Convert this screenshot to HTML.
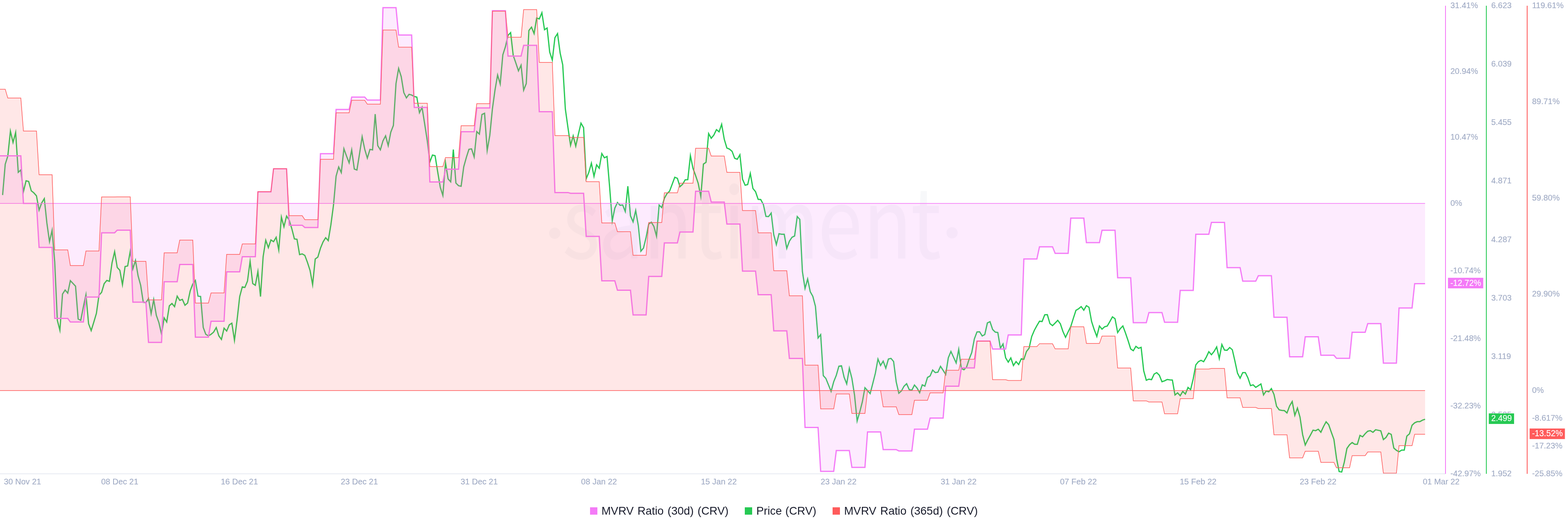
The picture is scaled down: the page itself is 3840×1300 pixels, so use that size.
<!DOCTYPE html>
<html lang="en"><head><meta charset="utf-8"><title>CRV MVRV chart</title>
<style>
html,body{margin:0;padding:0;background:#fff;}
body{width:3840px;height:1300px;overflow:hidden;font-family:"Liberation Sans",Arial,sans-serif;}
svg{display:block;}
svg text{font-family:"Liberation Sans",Arial,sans-serif;}
</style></head><body>
<svg width="3840" height="1300" viewBox="0 0 3840 1300">
<g fill="#9FAAC4" fill-opacity="0.085">
<circle cx="1358.5" cy="571" r="13.7"/><circle cx="2331.6" cy="570" r="13.7"/>
<text style="font-family:'Noto Sans CJK JP','Liberation Sans',sans-serif" font-size="237.7" transform="translate(0,632.5) scale(0.83,1)" x="1659.0 1765.9 1898.3 2044.1 2133.4 2196.9 2412.8 2546.4 2687.5" y="0">santiment</text>
</g>
<path d="M6.4,477.5 L12.8,402.1 L19.1,382.3 L25.5,321.0 L31.9,348.8 L38.3,324.3 L44.7,421.8 L51.0,416.1 L57.4,469.1 L63.8,442.6 L70.2,444.3 L76.6,467.2 L82.9,472.2 L89.3,479.5 L95.7,514.4 L102.1,496.7 L108.5,486.3 L114.8,546.0 L121.2,591.6 L127.6,563.8 L134.0,641.0 L140.4,784.2 L146.7,808.6 L153.1,719.9 L159.5,710.1 L165.9,717.7 L172.3,687.2 L178.6,693.8 L185.0,700.7 L191.4,781.0 L197.8,784.0 L204.2,751.1 L210.5,721.6 L216.9,792.5 L223.3,809.3 L229.7,788.8 L236.1,767.2 L242.4,722.7 L248.8,715.8 L255.2,694.3 L261.6,686.6 L268.0,688.7 L274.4,643.3 L280.7,616.1 L287.1,654.8 L293.5,661.7 L299.9,697.1 L306.3,652.5 L312.6,651.1 L319.0,615.1 L325.4,658.3 L331.8,637.5 L338.2,675.5 L344.5,698.4 L350.9,740.1 L357.3,741.0 L363.7,731.0 L370.1,768.1 L376.4,733.4 L382.8,771.8 L389.2,790.1 L395.6,817.7 L402.0,778.2 L408.3,788.3 L414.7,748.8 L421.1,743.0 L427.5,750.7 L433.9,725.0 L440.2,735.4 L446.6,732.9 L453.0,747.3 L459.4,742.0 L465.8,712.2 L472.1,695.2 L478.5,686.5 L484.9,725.0 L491.3,725.9 L497.7,801.6 L504.0,818.5 L510.4,822.2 L516.8,818.5 L523.2,813.1 L529.6,801.9 L535.9,822.2 L542.3,831.0 L548.7,803.3 L555.1,810.5 L561.5,795.2 L567.8,791.3 L574.2,833.3 L580.6,783.3 L587.0,726.2 L593.4,702.2 L599.7,703.7 L606.1,688.1 L612.5,639.8 L618.9,694.1 L625.3,698.5 L631.6,664.7 L638.0,726.2 L644.4,628.5 L650.8,588.1 L657.2,606.3 L663.5,587.4 L669.9,591.7 L676.3,580.8 L682.7,612.0 L689.1,531.4 L695.4,555.1 L701.8,529.0 L708.2,539.0 L714.6,559.7 L721.0,584.9 L727.3,585.8 L733.7,623.3 L740.1,621.6 L746.5,625.3 L752.9,642.2 L759.3,662.0 L765.6,696.9 L772.0,634.0 L778.4,629.4 L784.8,607.8 L791.2,592.2 L797.5,581.9 L803.9,589.1 L810.3,550.5 L816.7,502.3 L823.1,431.2 L829.4,408.9 L835.8,422.6 L842.2,364.1 L848.6,382.1 L855.0,398.7 L861.3,367.1 L867.7,413.8 L874.1,416.3 L880.5,376.4 L886.9,334.7 L893.2,365.4 L899.6,387.1 L906.0,365.7 L912.4,366.9 L918.8,279.4 L925.1,356.5 L931.5,366.8 L937.9,344.7 L944.3,332.6 L950.7,356.6 L957.0,323.6 L963.4,307.1 L969.8,204.6 L976.2,167.6 L982.6,187.7 L988.9,226.6 L995.3,239.6 L1001.7,230.9 L1008.1,232.6 L1014.5,236.3 L1020.8,237.7 L1027.2,275.9 L1033.6,262.7 L1040.0,303.3 L1046.4,344.5 L1052.7,396.5 L1059.1,379.5 L1065.5,381.2 L1071.9,420.7 L1078.3,458.8 L1084.6,478.5 L1091.0,398.4 L1097.4,438.1 L1103.8,445.1 L1110.2,366.1 L1116.5,448.2 L1122.9,454.6 L1129.3,455.9 L1135.7,408.3 L1142.1,385.4 L1148.4,365.6 L1154.8,364.4 L1161.2,384.2 L1167.6,322.2 L1174.0,328.4 L1180.3,280.3 L1186.7,277.3 L1193.1,368.3 L1199.5,331.5 L1205.9,266.5 L1212.2,220.7 L1218.6,183.6 L1225.0,205.6 L1231.4,134.4 L1237.8,114.3 L1244.1,86.7 L1250.5,79.8 L1256.9,135.8 L1263.3,154.2 L1269.7,173.4 L1276.1,159.6 L1282.4,220.7 L1288.8,204.6 L1295.2,74.8 L1301.6,66.4 L1308.0,82.3 L1314.3,44.2 L1320.7,46.3 L1327.1,31.1 L1333.5,72.8 L1339.9,68.6 L1346.2,127.6 L1352.6,147.1 L1359.0,92.2 L1365.4,82.3 L1371.8,129.9 L1378.1,158.8 L1384.5,266.6 L1390.9,312.4 L1397.3,355.8 L1403.7,332.7 L1410.0,357.9 L1416.4,328.7 L1422.8,301.5 L1429.2,312.4 L1435.6,437.7 L1441.9,422.3 L1448.3,399.5 L1454.7,431.8 L1461.1,403.5 L1467.5,411.8 L1473.8,376.0 L1480.2,386.4 L1486.6,383.2 L1493.0,458.1 L1499.4,540.9 L1505.7,509.5 L1512.1,495.9 L1518.5,502.6 L1524.9,501.8 L1531.3,517.8 L1537.6,455.8 L1544.0,528.3 L1550.4,543.2 L1556.8,515.3 L1563.2,552.2 L1569.5,615.0 L1575.9,607.2 L1582.3,581.1 L1588.7,548.5 L1595.1,544.0 L1601.4,554.5 L1607.8,578.1 L1614.2,502.1 L1620.6,508.2 L1627.0,485.6 L1633.3,474.2 L1639.7,468.2 L1646.1,451.2 L1652.5,433.9 L1658.9,436.6 L1665.2,457.0 L1671.6,451.2 L1678.0,440.2 L1684.4,439.8 L1690.8,381.1 L1697.1,412.2 L1703.5,429.7 L1709.9,448.9 L1716.3,481.2 L1722.7,401.7 L1729.0,397.5 L1735.4,327.0 L1741.8,338.5 L1748.2,330.7 L1754.6,317.4 L1761.0,322.7 L1767.3,304.2 L1773.7,341.0 L1780.1,362.3 L1786.5,365.1 L1792.9,370.6 L1799.2,387.5 L1805.6,389.8 L1812.0,379.0 L1818.4,438.5 L1824.8,453.5 L1831.1,451.8 L1837.5,424.5 L1843.9,461.4 L1850.3,469.2 L1856.7,488.0 L1863.0,488.5 L1869.4,500.4 L1875.8,529.8 L1882.2,530.2 L1888.6,521.6 L1894.9,574.5 L1901.3,598.8 L1907.7,572.3 L1914.1,573.5 L1920.5,573.5 L1926.8,608.1 L1933.2,590.5 L1939.6,580.9 L1946.0,577.7 L1952.4,530.2 L1958.7,537.1 L1965.1,665.0 L1971.5,706.2 L1977.9,683.1 L1984.3,714.2 L1990.6,725.6 L1997.0,749.9 L2003.4,827.4 L2009.8,819.3 L2016.2,919.6 L2022.5,926.5 L2028.9,942.2 L2035.3,958.2 L2041.7,934.8 L2048.1,918.7 L2054.4,896.6 L2060.8,895.4 L2067.2,923.5 L2073.6,939.9 L2080.0,901.5 L2086.3,926.5 L2092.7,967.0 L2099.1,1030.6 L2105.5,1008.5 L2111.9,983.7 L2118.2,949.2 L2124.6,956.2 L2131.0,963.7 L2137.4,938.8 L2143.8,913.5 L2150.1,879.0 L2156.5,894.8 L2162.9,884.1 L2169.3,901.4 L2175.7,879.1 L2182.0,877.4 L2188.4,885.1 L2194.8,935.1 L2201.2,962.8 L2207.6,957.1 L2213.9,945.6 L2220.3,939.4 L2226.7,953.9 L2233.1,955.2 L2239.5,942.6 L2245.9,950.2 L2252.2,961.3 L2258.6,942.1 L2265.0,945.4 L2271.4,924.1 L2277.8,920.4 L2284.1,905.9 L2290.5,912.2 L2296.9,911.2 L2303.3,896.9 L2309.7,906.6 L2316.0,916.7 L2322.4,875.9 L2328.8,860.4 L2335.2,874.5 L2341.6,888.5 L2347.9,855.4 L2354.3,902.1 L2360.7,905.2 L2367.1,898.8 L2373.5,879.1 L2379.8,863.1 L2386.2,829.6 L2392.6,812.6 L2399.0,812.2 L2405.4,822.6 L2411.7,819.0 L2418.1,790.6 L2424.5,787.5 L2430.9,806.6 L2437.3,813.1 L2443.6,814.0 L2450.0,852.5 L2456.4,842.0 L2462.8,875.9 L2469.2,886.6 L2475.5,876.3 L2481.9,894.8 L2488.3,885.3 L2494.7,892.6 L2501.1,878.3 L2507.4,879.8 L2513.8,860.6 L2520.2,852.3 L2526.6,823.9 L2533.0,808.8 L2539.3,797.3 L2545.7,786.4 L2552.1,787.1 L2558.5,770.7 L2564.9,770.3 L2571.2,792.2 L2577.6,797.2 L2584.0,790.9 L2590.4,784.2 L2596.8,792.7 L2603.1,811.5 L2609.5,825.8 L2615.9,812.4 L2622.3,799.5 L2628.7,778.9 L2635.0,759.7 L2641.4,756.0 L2647.8,750.6 L2654.2,759.4 L2660.6,748.3 L2666.9,752.3 L2673.3,787.2 L2679.7,806.9 L2686.1,823.7 L2692.5,798.1 L2698.8,805.9 L2705.2,800.0 L2711.6,798.2 L2718.0,787.2 L2724.4,775.8 L2730.7,780.3 L2737.1,814.2 L2743.5,804.6 L2749.9,798.0 L2756.3,815.2 L2762.7,834.0 L2769.0,854.2 L2775.4,858.7 L2781.8,847.9 L2788.2,852.8 L2794.6,850.3 L2800.9,907.6 L2807.3,930.9 L2813.7,928.2 L2820.1,929.5 L2826.5,915.8 L2832.8,912.3 L2839.2,918.6 L2845.6,934.5 L2852.0,932.3 L2858.4,929.1 L2864.7,930.0 L2871.1,930.5 L2877.5,966.9 L2883.9,961.8 L2890.3,968.8 L2896.6,958.2 L2903.0,964.7 L2909.4,948.6 L2915.8,954.1 L2922.2,927.3 L2928.5,893.3 L2934.9,885.4 L2941.3,882.1 L2947.7,885.6 L2954.1,874.5 L2960.4,861.1 L2966.8,868.5 L2973.2,860.5 L2979.6,849.4 L2986.0,877.8 L2992.3,843.4 L2998.7,857.0 L3005.1,857.6 L3011.5,850.8 L3017.9,856.2 L3024.2,883.7 L3030.6,913.5 L3037.0,926.0 L3043.4,912.2 L3049.8,912.2 L3056.1,925.0 L3062.5,944.2 L3068.9,942.1 L3075.3,948.3 L3081.7,944.3 L3088.0,939.9 L3094.4,966.8 L3100.8,957.2 L3107.2,959.3 L3113.6,951.4 L3119.9,965.4 L3126.3,994.7 L3132.7,1003.4 L3139.1,1004.8 L3145.5,1005.3 L3151.8,1011.0 L3158.2,993.8 L3164.6,982.9 L3171.0,1016.9 L3177.4,999.1 L3183.7,1021.3 L3190.1,1064.0 L3196.5,1089.5 L3202.9,1076.4 L3209.3,1064.9 L3215.6,1053.1 L3222.0,1054.4 L3228.4,1050.8 L3234.8,1058.2 L3241.2,1044.3 L3247.6,1032.5 L3253.9,1039.7 L3260.3,1058.0 L3266.7,1075.5 L3273.1,1122.2 L3279.5,1154.4 L3285.8,1155.6 L3292.2,1131.4 L3298.6,1097.9 L3305.0,1088.8 L3311.4,1083.4 L3317.7,1087.8 L3324.1,1087.8 L3330.5,1066.0 L3336.9,1069.4 L3343.3,1061.7 L3349.6,1055.7 L3356.0,1054.4 L3362.4,1058.4 L3368.8,1052.1 L3375.2,1053.4 L3381.5,1054.8 L3387.9,1076.2 L3394.3,1070.9 L3400.7,1060.4 L3407.1,1063.5 L3413.4,1097.0 L3419.8,1102.5 L3426.2,1106.1 L3432.6,1102.1 L3439.0,1102.1 L3445.3,1067.7 L3451.7,1062.2 L3458.1,1041.1 L3464.5,1035.1 L3470.9,1032.3 L3477.2,1032.3 L3483.6,1028.7 L3490.0,1026.4" fill="none" stroke="#26C953" stroke-width="3" stroke-linejoin="miter" stroke-miterlimit="10"/>
<path d="M0.0,381.5 L6.4,381.5 L12.8,381.5 L19.1,381.5 L25.5,381.5 L31.9,381.5 L38.3,381.5 L44.7,381.5 L51.0,381.5 L57.4,497.9 L63.8,497.9 L70.2,497.9 L76.6,497.9 L82.9,497.9 L89.3,497.9 L95.7,605.7 L102.1,605.7 L108.5,605.7 L114.8,605.7 L121.2,605.7 L127.6,605.7 L134.0,779.6 L140.4,779.6 L146.7,779.6 L153.1,779.6 L159.5,779.6 L165.9,779.6 L172.3,788.3 L178.6,788.3 L185.0,788.3 L191.4,788.3 L197.8,788.3 L204.2,788.3 L210.5,727.3 L216.9,727.3 L223.3,727.3 L229.7,727.3 L236.1,727.3 L242.4,727.3 L248.8,569.9 L255.2,569.9 L261.6,569.9 L268.0,569.9 L274.4,569.9 L280.7,569.9 L287.1,563.5 L293.5,563.5 L299.9,563.5 L306.3,563.5 L312.6,563.5 L319.0,563.5 L325.4,739.7 L331.8,739.7 L338.2,739.7 L344.5,739.7 L350.9,739.7 L357.3,739.7 L363.7,838.3 L370.1,838.3 L376.4,838.3 L382.8,838.3 L389.2,838.3 L395.6,838.3 L402.0,689.7 L408.3,689.7 L414.7,689.7 L421.1,689.7 L427.5,689.7 L433.9,689.7 L440.2,647.5 L446.6,647.5 L453.0,647.5 L459.4,647.5 L465.8,647.5 L472.1,647.5 L478.5,825.5 L484.9,825.5 L491.3,825.5 L497.7,825.5 L504.0,825.5 L510.4,825.5 L516.8,786.5 L523.2,786.5 L529.6,786.5 L535.9,786.5 L542.3,786.5 L548.7,786.5 L555.1,665.4 L561.5,665.4 L567.8,665.4 L574.2,665.4 L580.6,665.4 L587.0,665.4 L593.4,628.5 L599.7,628.5 L606.1,628.5 L612.5,628.5 L618.9,628.5 L625.3,628.5 L631.6,469.8 L638.0,469.8 L644.4,469.8 L650.8,469.8 L657.2,469.8 L663.5,469.8 L669.9,413.3 L676.3,413.3 L682.7,413.3 L689.1,413.3 L695.4,413.3 L701.8,413.3 L708.2,551.4 L714.6,551.4 L721.0,551.4 L727.3,551.4 L733.7,551.4 L740.1,551.4 L746.5,556.9 L752.9,556.9 L759.3,556.9 L765.6,556.9 L772.0,556.9 L778.4,556.9 L784.8,376.2 L791.2,376.2 L797.5,376.2 L803.9,376.2 L810.3,376.2 L816.7,376.2 L823.1,267.9 L829.4,267.9 L835.8,267.9 L842.2,267.9 L848.6,267.9 L855.0,267.9 L861.3,237.7 L867.7,237.7 L874.1,237.7 L880.5,237.7 L886.9,237.7 L893.2,237.7 L899.6,245.0 L906.0,245.0 L912.4,245.0 L918.8,245.0 L925.1,245.0 L931.5,245.0 L937.9,18.8 L944.3,18.8 L950.7,18.8 L957.0,18.8 L963.4,18.8 L969.8,18.8 L976.2,85.8 L982.6,85.8 L988.9,85.8 L995.3,85.8 L1001.7,85.8 L1008.1,85.8 L1014.5,262.9 L1020.8,262.9 L1027.2,262.9 L1033.6,262.9 L1040.0,262.9 L1046.4,262.9 L1052.7,445.5 L1059.1,445.5 L1065.5,445.5 L1071.9,445.5 L1078.3,445.5 L1084.6,445.5 L1091.0,414.3 L1097.4,414.3 L1103.8,414.3 L1110.2,414.3 L1116.5,414.3 L1122.9,414.3 L1129.3,322.5 L1135.7,322.5 L1142.1,322.5 L1148.4,322.5 L1154.8,322.5 L1161.2,322.5 L1167.6,264.3 L1174.0,264.3 L1180.3,264.3 L1186.7,264.3 L1193.1,264.3 L1199.5,264.3 L1205.9,26.2 L1212.2,26.2 L1218.6,26.2 L1225.0,26.2 L1231.4,26.2 L1237.8,26.2 L1244.1,137.2 L1250.5,137.2 L1256.9,137.2 L1263.3,137.2 L1269.7,137.2 L1276.1,137.2 L1282.4,111.1 L1288.8,111.1 L1295.2,111.1 L1301.6,111.1 L1308.0,111.1 L1314.3,111.1 L1320.7,273.4 L1327.1,273.4 L1333.5,273.4 L1339.9,273.4 L1346.2,273.4 L1352.6,273.4 L1359.0,471.4 L1365.4,471.4 L1371.8,471.4 L1378.1,471.4 L1384.5,471.4 L1390.9,471.4 L1397.3,473.3 L1403.7,473.3 L1410.0,473.3 L1416.4,473.3 L1422.8,473.3 L1429.2,473.3 L1435.6,578.8 L1441.9,578.8 L1448.3,578.8 L1454.7,578.8 L1461.1,578.8 L1467.5,578.8 L1473.8,687.5 L1480.2,687.5 L1486.6,687.5 L1493.0,687.5 L1499.4,687.5 L1505.7,687.5 L1512.1,710.5 L1518.5,710.5 L1524.9,710.5 L1531.3,710.5 L1537.6,710.5 L1544.0,710.5 L1550.4,771.1 L1556.8,771.1 L1563.2,771.1 L1569.5,771.1 L1575.9,771.1 L1582.3,771.1 L1588.7,676.8 L1595.1,676.8 L1601.4,676.8 L1607.8,676.8 L1614.2,676.8 L1620.6,676.8 L1627.0,594.7 L1633.3,594.7 L1639.7,594.7 L1646.1,594.7 L1652.5,594.7 L1658.9,594.7 L1665.2,568.0 L1671.6,568.0 L1678.0,568.0 L1684.4,568.0 L1690.8,568.0 L1697.1,568.0 L1703.5,468.2 L1709.9,468.2 L1716.3,468.2 L1722.7,468.2 L1729.0,468.2 L1735.4,468.2 L1741.8,494.8 L1748.2,494.8 L1754.6,494.8 L1761.0,494.8 L1767.3,494.8 L1773.7,494.8 L1780.1,548.5 L1786.5,548.5 L1792.9,548.5 L1799.2,548.5 L1805.6,548.5 L1812.0,548.5 L1818.4,663.7 L1824.8,663.7 L1831.1,663.7 L1837.5,663.7 L1843.9,663.7 L1850.3,663.7 L1856.7,721.5 L1863.0,721.5 L1869.4,721.5 L1875.8,721.5 L1882.2,721.5 L1888.6,721.5 L1894.9,810.0 L1901.3,810.0 L1907.7,810.0 L1914.1,810.0 L1920.5,810.0 L1926.8,810.0 L1933.2,877.6 L1939.6,877.6 L1946.0,877.6 L1952.4,877.6 L1958.7,877.6 L1965.1,877.6 L1971.5,1046.5 L1977.9,1046.5 L1984.3,1046.5 L1990.6,1046.5 L1997.0,1046.5 L2003.4,1046.5 L2009.8,1153.9 L2016.2,1153.9 L2022.5,1153.9 L2028.9,1153.9 L2035.3,1153.9 L2041.7,1153.9 L2048.1,1103.0 L2054.4,1103.0 L2060.8,1103.0 L2067.2,1103.0 L2073.6,1103.0 L2080.0,1103.0 L2086.3,1144.3 L2092.7,1144.3 L2099.1,1144.3 L2105.5,1144.3 L2111.9,1144.3 L2118.2,1144.3 L2124.6,1057.5 L2131.0,1057.5 L2137.4,1057.5 L2143.8,1057.5 L2150.1,1057.5 L2156.5,1057.5 L2162.9,1100.7 L2169.3,1100.7 L2175.7,1100.7 L2182.0,1100.7 L2188.4,1100.7 L2194.8,1100.7 L2201.2,1103.9 L2207.6,1103.9 L2213.9,1103.9 L2220.3,1103.9 L2226.7,1103.9 L2233.1,1103.9 L2239.5,1050.7 L2245.9,1050.7 L2252.2,1050.7 L2258.6,1050.7 L2265.0,1050.7 L2271.4,1050.7 L2277.8,1023.6 L2284.1,1023.6 L2290.5,1023.6 L2296.9,1023.6 L2303.3,1023.6 L2309.7,1023.6 L2316.0,945.6 L2322.4,945.6 L2328.8,945.6 L2335.2,945.6 L2341.6,945.6 L2347.9,945.6 L2354.3,900.7 L2360.7,900.7 L2367.1,900.7 L2373.5,900.7 L2379.8,900.7 L2386.2,900.7 L2392.6,835.1 L2399.0,835.1 L2405.4,835.1 L2411.7,835.1 L2418.1,835.1 L2424.5,835.1 L2430.9,854.6 L2437.3,854.6 L2443.6,854.6 L2450.0,854.6 L2456.4,854.6 L2462.8,854.6 L2469.2,820.0 L2475.5,820.0 L2481.9,820.0 L2488.3,820.0 L2494.7,820.0 L2501.1,820.0 L2507.4,634.0 L2513.8,634.0 L2520.2,634.0 L2526.6,634.0 L2533.0,634.0 L2539.3,634.0 L2545.7,604.2 L2552.1,604.2 L2558.5,604.2 L2564.9,604.2 L2571.2,604.2 L2577.6,604.2 L2584.0,620.2 L2590.4,620.2 L2596.8,620.2 L2603.1,620.2 L2609.5,620.2 L2615.9,620.2 L2622.3,534.0 L2628.7,534.0 L2635.0,534.0 L2641.4,534.0 L2647.8,534.0 L2654.2,534.0 L2660.6,594.1 L2666.9,594.1 L2673.3,594.1 L2679.7,594.1 L2686.1,594.1 L2692.5,594.1 L2698.8,563.8 L2705.2,563.8 L2711.6,563.8 L2718.0,563.8 L2724.4,563.8 L2730.7,563.8 L2737.1,679.9 L2743.5,679.9 L2749.9,679.9 L2756.3,679.9 L2762.7,679.9 L2769.0,679.9 L2775.4,789.9 L2781.8,789.9 L2788.2,789.9 L2794.6,789.9 L2800.9,789.9 L2807.3,789.9 L2813.7,765.2 L2820.1,765.2 L2826.5,765.2 L2832.8,765.2 L2839.2,765.2 L2845.6,765.2 L2852.0,789.0 L2858.4,789.0 L2864.7,789.0 L2871.1,789.0 L2877.5,789.0 L2883.9,789.0 L2890.3,711.1 L2896.6,711.1 L2903.0,711.1 L2909.4,711.1 L2915.8,711.1 L2922.2,711.1 L2928.5,573.5 L2934.9,573.5 L2941.3,573.5 L2947.7,573.5 L2954.1,573.5 L2960.4,573.5 L2966.8,544.4 L2973.2,544.4 L2979.6,544.4 L2986.0,544.4 L2992.3,544.4 L2998.7,544.4 L3005.1,655.3 L3011.5,655.3 L3017.9,655.3 L3024.2,655.3 L3030.6,655.3 L3037.0,655.3 L3043.4,688.3 L3049.8,688.3 L3056.1,688.3 L3062.5,688.3 L3068.9,688.3 L3075.3,688.3 L3081.7,675.0 L3088.0,675.0 L3094.4,675.0 L3100.8,675.0 L3107.2,675.0 L3113.6,675.0 L3119.9,776.8 L3126.3,776.8 L3132.7,776.8 L3139.1,776.8 L3145.5,776.8 L3151.8,776.8 L3158.2,873.4 L3164.6,873.4 L3171.0,873.4 L3177.4,873.4 L3183.7,873.4 L3190.1,873.4 L3196.5,824.5 L3202.9,824.5 L3209.3,824.5 L3215.6,824.5 L3222.0,824.5 L3228.4,824.5 L3234.8,869.7 L3241.2,869.7 L3247.6,869.7 L3253.9,869.7 L3260.3,869.7 L3266.7,869.7 L3273.1,877.3 L3279.5,877.3 L3285.8,877.3 L3292.2,877.3 L3298.6,877.3 L3305.0,877.3 L3311.4,813.5 L3317.7,813.5 L3324.1,813.5 L3330.5,813.5 L3336.9,813.5 L3343.3,813.5 L3349.6,792.2 L3356.0,792.2 L3362.4,792.2 L3368.8,792.2 L3375.2,792.2 L3381.5,792.2 L3387.9,889.1 L3394.3,889.1 L3400.7,889.1 L3407.1,889.1 L3413.4,889.1 L3419.8,889.1 L3426.2,754.0 L3432.6,754.0 L3439.0,754.0 L3445.3,754.0 L3451.7,754.0 L3458.1,754.0 L3464.5,694.4 L3470.9,694.4 L3477.2,694.4 L3483.6,694.4 L3490.0,694.4 L3490.0,498.0 L0.0,498.0 Z" fill="#F47BF7" fill-opacity="0.15" stroke="none"/>
<line x1="0" y1="498.0" x2="3490" y2="498.0" stroke="#F47BF7" stroke-opacity="0.8" stroke-width="2"/>
<path d="M0.0,381.5 L6.4,381.5 L12.8,381.5 L19.1,381.5 L25.5,381.5 L31.9,381.5 L38.3,381.5 L44.7,381.5 L51.0,381.5 L57.4,497.9 L63.8,497.9 L70.2,497.9 L76.6,497.9 L82.9,497.9 L89.3,497.9 L95.7,605.7 L102.1,605.7 L108.5,605.7 L114.8,605.7 L121.2,605.7 L127.6,605.7 L134.0,779.6 L140.4,779.6 L146.7,779.6 L153.1,779.6 L159.5,779.6 L165.9,779.6 L172.3,788.3 L178.6,788.3 L185.0,788.3 L191.4,788.3 L197.8,788.3 L204.2,788.3 L210.5,727.3 L216.9,727.3 L223.3,727.3 L229.7,727.3 L236.1,727.3 L242.4,727.3 L248.8,569.9 L255.2,569.9 L261.6,569.9 L268.0,569.9 L274.4,569.9 L280.7,569.9 L287.1,563.5 L293.5,563.5 L299.9,563.5 L306.3,563.5 L312.6,563.5 L319.0,563.5 L325.4,739.7 L331.8,739.7 L338.2,739.7 L344.5,739.7 L350.9,739.7 L357.3,739.7 L363.7,838.3 L370.1,838.3 L376.4,838.3 L382.8,838.3 L389.2,838.3 L395.6,838.3 L402.0,689.7 L408.3,689.7 L414.7,689.7 L421.1,689.7 L427.5,689.7 L433.9,689.7 L440.2,647.5 L446.6,647.5 L453.0,647.5 L459.4,647.5 L465.8,647.5 L472.1,647.5 L478.5,825.5 L484.9,825.5 L491.3,825.5 L497.7,825.5 L504.0,825.5 L510.4,825.5 L516.8,786.5 L523.2,786.5 L529.6,786.5 L535.9,786.5 L542.3,786.5 L548.7,786.5 L555.1,665.4 L561.5,665.4 L567.8,665.4 L574.2,665.4 L580.6,665.4 L587.0,665.4 L593.4,628.5 L599.7,628.5 L606.1,628.5 L612.5,628.5 L618.9,628.5 L625.3,628.5 L631.6,469.8 L638.0,469.8 L644.4,469.8 L650.8,469.8 L657.2,469.8 L663.5,469.8 L669.9,413.3 L676.3,413.3 L682.7,413.3 L689.1,413.3 L695.4,413.3 L701.8,413.3 L708.2,551.4 L714.6,551.4 L721.0,551.4 L727.3,551.4 L733.7,551.4 L740.1,551.4 L746.5,556.9 L752.9,556.9 L759.3,556.9 L765.6,556.9 L772.0,556.9 L778.4,556.9 L784.8,376.2 L791.2,376.2 L797.5,376.2 L803.9,376.2 L810.3,376.2 L816.7,376.2 L823.1,267.9 L829.4,267.9 L835.8,267.9 L842.2,267.9 L848.6,267.9 L855.0,267.9 L861.3,237.7 L867.7,237.7 L874.1,237.7 L880.5,237.7 L886.9,237.7 L893.2,237.7 L899.6,245.0 L906.0,245.0 L912.4,245.0 L918.8,245.0 L925.1,245.0 L931.5,245.0 L937.9,18.8 L944.3,18.8 L950.7,18.8 L957.0,18.8 L963.4,18.8 L969.8,18.8 L976.2,85.8 L982.6,85.8 L988.9,85.8 L995.3,85.8 L1001.7,85.8 L1008.1,85.8 L1014.5,262.9 L1020.8,262.9 L1027.2,262.9 L1033.6,262.9 L1040.0,262.9 L1046.4,262.9 L1052.7,445.5 L1059.1,445.5 L1065.5,445.5 L1071.9,445.5 L1078.3,445.5 L1084.6,445.5 L1091.0,414.3 L1097.4,414.3 L1103.8,414.3 L1110.2,414.3 L1116.5,414.3 L1122.9,414.3 L1129.3,322.5 L1135.7,322.5 L1142.1,322.5 L1148.4,322.5 L1154.8,322.5 L1161.2,322.5 L1167.6,264.3 L1174.0,264.3 L1180.3,264.3 L1186.7,264.3 L1193.1,264.3 L1199.5,264.3 L1205.9,26.2 L1212.2,26.2 L1218.6,26.2 L1225.0,26.2 L1231.4,26.2 L1237.8,26.2 L1244.1,137.2 L1250.5,137.2 L1256.9,137.2 L1263.3,137.2 L1269.7,137.2 L1276.1,137.2 L1282.4,111.1 L1288.8,111.1 L1295.2,111.1 L1301.6,111.1 L1308.0,111.1 L1314.3,111.1 L1320.7,273.4 L1327.1,273.4 L1333.5,273.4 L1339.9,273.4 L1346.2,273.4 L1352.6,273.4 L1359.0,471.4 L1365.4,471.4 L1371.8,471.4 L1378.1,471.4 L1384.5,471.4 L1390.9,471.4 L1397.3,473.3 L1403.7,473.3 L1410.0,473.3 L1416.4,473.3 L1422.8,473.3 L1429.2,473.3 L1435.6,578.8 L1441.9,578.8 L1448.3,578.8 L1454.7,578.8 L1461.1,578.8 L1467.5,578.8 L1473.8,687.5 L1480.2,687.5 L1486.6,687.5 L1493.0,687.5 L1499.4,687.5 L1505.7,687.5 L1512.1,710.5 L1518.5,710.5 L1524.9,710.5 L1531.3,710.5 L1537.6,710.5 L1544.0,710.5 L1550.4,771.1 L1556.8,771.1 L1563.2,771.1 L1569.5,771.1 L1575.9,771.1 L1582.3,771.1 L1588.7,676.8 L1595.1,676.8 L1601.4,676.8 L1607.8,676.8 L1614.2,676.8 L1620.6,676.8 L1627.0,594.7 L1633.3,594.7 L1639.7,594.7 L1646.1,594.7 L1652.5,594.7 L1658.9,594.7 L1665.2,568.0 L1671.6,568.0 L1678.0,568.0 L1684.4,568.0 L1690.8,568.0 L1697.1,568.0 L1703.5,468.2 L1709.9,468.2 L1716.3,468.2 L1722.7,468.2 L1729.0,468.2 L1735.4,468.2 L1741.8,494.8 L1748.2,494.8 L1754.6,494.8 L1761.0,494.8 L1767.3,494.8 L1773.7,494.8 L1780.1,548.5 L1786.5,548.5 L1792.9,548.5 L1799.2,548.5 L1805.6,548.5 L1812.0,548.5 L1818.4,663.7 L1824.8,663.7 L1831.1,663.7 L1837.5,663.7 L1843.9,663.7 L1850.3,663.7 L1856.7,721.5 L1863.0,721.5 L1869.4,721.5 L1875.8,721.5 L1882.2,721.5 L1888.6,721.5 L1894.9,810.0 L1901.3,810.0 L1907.7,810.0 L1914.1,810.0 L1920.5,810.0 L1926.8,810.0 L1933.2,877.6 L1939.6,877.6 L1946.0,877.6 L1952.4,877.6 L1958.7,877.6 L1965.1,877.6 L1971.5,1046.5 L1977.9,1046.5 L1984.3,1046.5 L1990.6,1046.5 L1997.0,1046.5 L2003.4,1046.5 L2009.8,1153.9 L2016.2,1153.9 L2022.5,1153.9 L2028.9,1153.9 L2035.3,1153.9 L2041.7,1153.9 L2048.1,1103.0 L2054.4,1103.0 L2060.8,1103.0 L2067.2,1103.0 L2073.6,1103.0 L2080.0,1103.0 L2086.3,1144.3 L2092.7,1144.3 L2099.1,1144.3 L2105.5,1144.3 L2111.9,1144.3 L2118.2,1144.3 L2124.6,1057.5 L2131.0,1057.5 L2137.4,1057.5 L2143.8,1057.5 L2150.1,1057.5 L2156.5,1057.5 L2162.9,1100.7 L2169.3,1100.7 L2175.7,1100.7 L2182.0,1100.7 L2188.4,1100.7 L2194.8,1100.7 L2201.2,1103.9 L2207.6,1103.9 L2213.9,1103.9 L2220.3,1103.9 L2226.7,1103.9 L2233.1,1103.9 L2239.5,1050.7 L2245.9,1050.7 L2252.2,1050.7 L2258.6,1050.7 L2265.0,1050.7 L2271.4,1050.7 L2277.8,1023.6 L2284.1,1023.6 L2290.5,1023.6 L2296.9,1023.6 L2303.3,1023.6 L2309.7,1023.6 L2316.0,945.6 L2322.4,945.6 L2328.8,945.6 L2335.2,945.6 L2341.6,945.6 L2347.9,945.6 L2354.3,900.7 L2360.7,900.7 L2367.1,900.7 L2373.5,900.7 L2379.8,900.7 L2386.2,900.7 L2392.6,835.1 L2399.0,835.1 L2405.4,835.1 L2411.7,835.1 L2418.1,835.1 L2424.5,835.1 L2430.9,854.6 L2437.3,854.6 L2443.6,854.6 L2450.0,854.6 L2456.4,854.6 L2462.8,854.6 L2469.2,820.0 L2475.5,820.0 L2481.9,820.0 L2488.3,820.0 L2494.7,820.0 L2501.1,820.0 L2507.4,634.0 L2513.8,634.0 L2520.2,634.0 L2526.6,634.0 L2533.0,634.0 L2539.3,634.0 L2545.7,604.2 L2552.1,604.2 L2558.5,604.2 L2564.9,604.2 L2571.2,604.2 L2577.6,604.2 L2584.0,620.2 L2590.4,620.2 L2596.8,620.2 L2603.1,620.2 L2609.5,620.2 L2615.9,620.2 L2622.3,534.0 L2628.7,534.0 L2635.0,534.0 L2641.4,534.0 L2647.8,534.0 L2654.2,534.0 L2660.6,594.1 L2666.9,594.1 L2673.3,594.1 L2679.7,594.1 L2686.1,594.1 L2692.5,594.1 L2698.8,563.8 L2705.2,563.8 L2711.6,563.8 L2718.0,563.8 L2724.4,563.8 L2730.7,563.8 L2737.1,679.9 L2743.5,679.9 L2749.9,679.9 L2756.3,679.9 L2762.7,679.9 L2769.0,679.9 L2775.4,789.9 L2781.8,789.9 L2788.2,789.9 L2794.6,789.9 L2800.9,789.9 L2807.3,789.9 L2813.7,765.2 L2820.1,765.2 L2826.5,765.2 L2832.8,765.2 L2839.2,765.2 L2845.6,765.2 L2852.0,789.0 L2858.4,789.0 L2864.7,789.0 L2871.1,789.0 L2877.5,789.0 L2883.9,789.0 L2890.3,711.1 L2896.6,711.1 L2903.0,711.1 L2909.4,711.1 L2915.8,711.1 L2922.2,711.1 L2928.5,573.5 L2934.9,573.5 L2941.3,573.5 L2947.7,573.5 L2954.1,573.5 L2960.4,573.5 L2966.8,544.4 L2973.2,544.4 L2979.6,544.4 L2986.0,544.4 L2992.3,544.4 L2998.7,544.4 L3005.1,655.3 L3011.5,655.3 L3017.9,655.3 L3024.2,655.3 L3030.6,655.3 L3037.0,655.3 L3043.4,688.3 L3049.8,688.3 L3056.1,688.3 L3062.5,688.3 L3068.9,688.3 L3075.3,688.3 L3081.7,675.0 L3088.0,675.0 L3094.4,675.0 L3100.8,675.0 L3107.2,675.0 L3113.6,675.0 L3119.9,776.8 L3126.3,776.8 L3132.7,776.8 L3139.1,776.8 L3145.5,776.8 L3151.8,776.8 L3158.2,873.4 L3164.6,873.4 L3171.0,873.4 L3177.4,873.4 L3183.7,873.4 L3190.1,873.4 L3196.5,824.5 L3202.9,824.5 L3209.3,824.5 L3215.6,824.5 L3222.0,824.5 L3228.4,824.5 L3234.8,869.7 L3241.2,869.7 L3247.6,869.7 L3253.9,869.7 L3260.3,869.7 L3266.7,869.7 L3273.1,877.3 L3279.5,877.3 L3285.8,877.3 L3292.2,877.3 L3298.6,877.3 L3305.0,877.3 L3311.4,813.5 L3317.7,813.5 L3324.1,813.5 L3330.5,813.5 L3336.9,813.5 L3343.3,813.5 L3349.6,792.2 L3356.0,792.2 L3362.4,792.2 L3368.8,792.2 L3375.2,792.2 L3381.5,792.2 L3387.9,889.1 L3394.3,889.1 L3400.7,889.1 L3407.1,889.1 L3413.4,889.1 L3419.8,889.1 L3426.2,754.0 L3432.6,754.0 L3439.0,754.0 L3445.3,754.0 L3451.7,754.0 L3458.1,754.0 L3464.5,694.4 L3470.9,694.4 L3477.2,694.4 L3483.6,694.4 L3490.0,694.4" fill="none" stroke="#F47BF7" stroke-width="3" stroke-linejoin="miter" stroke-miterlimit="10"/>
<path d="M0.0,218.4 L6.4,218.4 L12.8,218.4 L19.1,239.9 L25.5,239.9 L31.9,239.9 L38.3,239.9 L44.7,239.9 L51.0,239.9 L57.4,320.7 L63.8,320.7 L70.2,320.7 L76.6,320.7 L82.9,320.7 L89.3,320.7 L95.7,427.7 L102.1,427.7 L108.5,427.7 L114.8,427.7 L121.2,427.7 L127.6,427.7 L134.0,611.7 L140.4,611.7 L146.7,611.7 L153.1,611.7 L159.5,611.7 L165.9,611.7 L172.3,650.2 L178.6,650.2 L185.0,650.2 L191.4,650.2 L197.8,650.2 L204.2,650.2 L210.5,614.4 L216.9,614.4 L223.3,614.4 L229.7,614.4 L236.1,614.4 L242.4,614.4 L248.8,482.3 L255.2,482.3 L261.6,482.3 L268.0,482.3 L274.4,482.3 L280.7,482.3 L287.1,481.9 L293.5,481.9 L299.9,481.9 L306.3,481.9 L312.6,481.9 L319.0,481.9 L325.4,639.7 L331.8,639.7 L338.2,639.7 L344.5,639.7 L350.9,639.7 L357.3,639.7 L363.7,734.2 L370.1,734.2 L376.4,734.2 L382.8,734.2 L389.2,734.2 L395.6,734.2 L402.0,619.0 L408.3,619.0 L414.7,619.0 L421.1,619.0 L427.5,619.0 L433.9,619.0 L440.2,587.8 L446.6,587.8 L453.0,587.8 L459.4,587.8 L465.8,587.8 L472.1,587.8 L478.5,742.0 L484.9,742.0 L491.3,742.0 L497.7,742.0 L504.0,742.0 L510.4,742.0 L516.8,717.2 L523.2,717.2 L529.6,717.2 L535.9,717.2 L542.3,717.2 L548.7,717.2 L555.1,622.7 L561.5,622.7 L567.8,622.7 L574.2,622.7 L580.6,622.7 L587.0,622.7 L593.4,597.3 L599.7,597.3 L606.1,597.3 L612.5,597.3 L618.9,597.3 L625.3,597.3 L631.6,469.3 L638.0,469.3 L644.4,469.3 L650.8,469.3 L657.2,469.3 L663.5,469.3 L669.9,412.9 L676.3,412.9 L682.7,412.9 L689.1,412.9 L695.4,412.9 L701.8,412.9 L708.2,528.0 L714.6,528.0 L721.0,528.0 L727.3,528.0 L733.7,528.0 L740.1,528.0 L746.5,537.7 L752.9,537.7 L759.3,537.7 L765.6,537.7 L772.0,537.7 L778.4,537.7 L784.8,389.9 L791.2,389.9 L797.5,389.9 L803.9,389.9 L810.3,389.9 L816.7,389.9 L823.1,276.2 L829.4,276.2 L835.8,276.2 L842.2,276.2 L848.6,276.2 L855.0,276.2 L861.3,245.5 L867.7,245.5 L874.1,245.5 L880.5,245.5 L886.9,245.5 L893.2,245.5 L899.6,255.1 L906.0,255.1 L912.4,255.1 L918.8,255.1 L925.1,255.1 L931.5,255.1 L937.9,73.4 L944.3,73.4 L950.7,73.4 L957.0,73.4 L963.4,73.4 L969.8,73.4 L976.2,115.6 L982.6,115.6 L988.9,115.6 L995.3,115.6 L1001.7,115.6 L1008.1,115.6 L1014.5,252.8 L1020.8,252.8 L1027.2,252.8 L1033.6,252.8 L1040.0,252.8 L1046.4,252.8 L1052.7,407.8 L1059.1,407.8 L1065.5,407.8 L1071.9,407.8 L1078.3,407.8 L1084.6,407.8 L1091.0,385.8 L1097.4,385.8 L1103.8,385.8 L1110.2,385.8 L1116.5,385.8 L1122.9,385.8 L1129.3,307.8 L1135.7,307.8 L1142.1,307.8 L1148.4,307.8 L1154.8,307.8 L1161.2,307.8 L1167.6,253.7 L1174.0,253.7 L1180.3,253.7 L1186.7,253.7 L1193.1,253.7 L1199.5,253.7 L1205.9,27.5 L1212.2,27.5 L1218.6,27.5 L1225.0,27.5 L1231.4,27.5 L1237.8,27.5 L1244.1,91.3 L1250.5,91.3 L1256.9,91.3 L1263.3,91.3 L1269.7,91.3 L1276.1,91.3 L1282.4,23.4 L1288.8,23.4 L1295.2,23.4 L1301.6,23.4 L1308.0,23.4 L1314.3,23.4 L1320.7,152.8 L1327.1,152.8 L1333.5,152.8 L1339.9,152.8 L1346.2,152.8 L1352.6,152.8 L1359.0,331.9 L1365.4,331.9 L1371.8,331.9 L1378.1,331.9 L1384.5,331.9 L1390.9,331.9 L1397.3,336.6 L1403.7,336.6 L1410.0,336.6 L1416.4,336.6 L1422.8,336.6 L1429.2,336.6 L1435.6,444.8 L1441.9,444.8 L1448.3,444.8 L1454.7,444.8 L1461.1,444.8 L1467.5,444.8 L1473.8,545.7 L1480.2,545.7 L1486.6,545.7 L1493.0,545.7 L1499.4,545.7 L1505.7,545.7 L1512.1,567.3 L1518.5,567.3 L1524.9,567.3 L1531.3,567.3 L1537.6,567.3 L1544.0,567.3 L1550.4,624.9 L1556.8,624.9 L1563.2,624.9 L1569.5,624.9 L1575.9,624.9 L1582.3,624.9 L1588.7,544.8 L1595.1,544.8 L1601.4,544.8 L1607.8,544.8 L1614.2,544.8 L1620.6,544.8 L1627.0,471.9 L1633.3,471.9 L1639.7,471.9 L1646.1,471.9 L1652.5,471.9 L1658.9,471.9 L1665.2,448.5 L1671.6,448.5 L1678.0,448.5 L1684.4,448.5 L1690.8,448.5 L1697.1,448.5 L1703.5,363.1 L1709.9,363.1 L1716.3,363.1 L1722.7,363.1 L1729.0,363.1 L1735.4,363.1 L1741.8,381.9 L1748.2,381.9 L1754.6,381.9 L1761.0,381.9 L1767.3,381.9 L1773.7,381.9 L1780.1,421.9 L1786.5,421.9 L1792.9,421.9 L1799.2,421.9 L1805.6,421.9 L1812.0,421.9 L1818.4,515.5 L1824.8,515.5 L1831.1,515.5 L1837.5,515.5 L1843.9,515.5 L1850.3,515.5 L1856.7,569.9 L1863.0,569.9 L1869.4,569.9 L1875.8,569.9 L1882.2,569.9 L1888.6,569.9 L1894.9,662.8 L1901.3,662.8 L1907.7,662.8 L1914.1,662.8 L1920.5,662.8 L1926.8,662.8 L1933.2,724.3 L1939.6,724.3 L1946.0,724.3 L1952.4,724.3 L1958.7,724.3 L1965.1,724.3 L1971.5,893.9 L1977.9,893.9 L1984.3,893.9 L1990.6,893.9 L1997.0,893.9 L2003.4,893.9 L2009.8,1001.1 L2016.2,1001.1 L2022.5,1001.1 L2028.9,1001.1 L2035.3,1001.1 L2041.7,1001.1 L2048.1,964.4 L2054.4,964.4 L2060.8,964.4 L2067.2,964.4 L2073.6,964.4 L2080.0,964.4 L2086.3,1012.2 L2092.7,1012.2 L2099.1,1012.2 L2105.5,1012.2 L2111.9,1012.2 L2118.2,1012.2 L2124.6,956.2 L2131.0,956.2 L2137.4,956.2 L2143.8,956.2 L2150.1,956.2 L2156.5,956.2 L2162.9,996.1 L2169.3,996.1 L2175.7,996.1 L2182.0,996.1 L2188.4,996.1 L2194.8,996.1 L2201.2,1014.9 L2207.6,1014.9 L2213.9,1014.9 L2220.3,1014.9 L2226.7,1014.9 L2233.1,1014.9 L2239.5,980.0 L2245.9,980.0 L2252.2,980.0 L2258.6,980.0 L2265.0,980.0 L2271.4,980.0 L2277.8,961.7 L2284.1,961.7 L2290.5,961.7 L2296.9,961.7 L2303.3,961.7 L2309.7,961.7 L2316.0,906.6 L2322.4,906.6 L2328.8,906.6 L2335.2,906.6 L2341.6,906.6 L2347.9,906.6 L2354.3,879.6 L2360.7,879.6 L2367.1,879.6 L2373.5,879.6 L2379.8,879.6 L2386.2,879.6 L2392.6,835.3 L2399.0,835.3 L2405.4,835.3 L2411.7,835.3 L2418.1,835.3 L2424.5,835.3 L2430.9,929.6 L2437.3,929.6 L2443.6,929.6 L2450.0,929.6 L2456.4,929.6 L2462.8,929.6 L2469.2,931.4 L2475.5,931.4 L2481.9,931.4 L2488.3,931.4 L2494.7,931.4 L2501.1,931.4 L2507.4,848.5 L2513.8,848.5 L2520.2,848.5 L2526.6,848.5 L2533.0,848.5 L2539.3,848.5 L2545.7,841.6 L2552.1,841.6 L2558.5,841.6 L2564.9,841.6 L2571.2,841.6 L2577.6,841.6 L2584.0,854.0 L2590.4,854.0 L2596.8,854.0 L2603.1,854.0 L2609.5,854.0 L2615.9,854.0 L2622.3,799.9 L2628.7,799.9 L2635.0,799.9 L2641.4,799.9 L2647.8,799.9 L2654.2,799.9 L2660.6,840.7 L2666.9,840.7 L2673.3,840.7 L2679.7,840.7 L2686.1,840.7 L2692.5,840.7 L2698.8,822.8 L2705.2,822.8 L2711.6,822.8 L2718.0,822.8 L2724.4,822.8 L2730.7,822.8 L2737.1,901.1 L2743.5,901.1 L2749.9,901.1 L2756.3,901.1 L2762.7,901.1 L2769.0,901.1 L2775.4,981.4 L2781.8,981.4 L2788.2,981.4 L2794.6,981.4 L2800.9,981.4 L2807.3,981.4 L2813.7,984.2 L2820.1,984.2 L2826.5,984.2 L2832.8,984.2 L2839.2,984.2 L2845.6,984.2 L2852.0,1013.1 L2858.4,1013.1 L2864.7,1013.1 L2871.1,1013.1 L2877.5,1013.1 L2883.9,1013.1 L2890.3,975.9 L2896.6,975.9 L2903.0,975.9 L2909.4,975.9 L2915.8,975.9 L2922.2,975.9 L2928.5,903.4 L2934.9,903.4 L2941.3,903.4 L2947.7,903.4 L2954.1,903.4 L2960.4,903.4 L2966.8,902.1 L2973.2,902.1 L2979.6,902.1 L2986.0,902.1 L2992.3,902.1 L2998.7,902.1 L3005.1,974.1 L3011.5,974.1 L3017.9,974.1 L3024.2,974.1 L3030.6,974.1 L3037.0,974.1 L3043.4,997.5 L3049.8,997.5 L3056.1,997.5 L3062.5,997.5 L3068.9,997.5 L3075.3,997.5 L3081.7,1000.2 L3088.0,1000.2 L3094.4,1000.2 L3100.8,1000.2 L3107.2,1000.2 L3113.6,1000.2 L3119.9,1064.4 L3126.3,1064.4 L3132.7,1064.4 L3139.1,1064.4 L3145.5,1064.4 L3151.8,1064.4 L3158.2,1120.9 L3164.6,1120.9 L3171.0,1120.9 L3177.4,1120.9 L3183.7,1120.9 L3190.1,1120.9 L3196.5,1104.8 L3202.9,1104.8 L3209.3,1104.8 L3215.6,1104.8 L3222.0,1104.8 L3228.4,1104.8 L3234.8,1131.9 L3241.2,1131.9 L3247.6,1131.9 L3253.9,1131.9 L3260.3,1131.9 L3266.7,1131.9 L3273.1,1145.2 L3279.5,1145.2 L3285.8,1145.2 L3292.2,1145.2 L3298.6,1145.2 L3305.0,1145.2 L3311.4,1115.4 L3317.7,1115.4 L3324.1,1115.4 L3330.5,1115.4 L3336.9,1115.4 L3343.3,1115.4 L3349.6,1106.6 L3356.0,1106.6 L3362.4,1106.6 L3368.8,1106.6 L3375.2,1106.6 L3381.5,1106.6 L3387.9,1158.5 L3394.3,1158.5 L3400.7,1158.5 L3407.1,1158.5 L3413.4,1158.5 L3419.8,1158.5 L3426.2,1091.1 L3432.6,1091.1 L3439.0,1091.1 L3445.3,1091.1 L3451.7,1091.1 L3458.1,1091.1 L3464.5,1063.3 L3470.9,1063.3 L3477.2,1063.3 L3483.6,1063.3 L3490.0,1063.3 L3490.0,956.3 L0.0,956.3 Z" fill="#FF5B5B" fill-opacity="0.15" stroke="none"/>
<line x1="0" y1="956.3" x2="3490" y2="956.3" stroke="#FF5B5B" stroke-width="1.5"/>
<path d="M0.0,218.4 L6.4,218.4 L12.8,218.4 L19.1,239.9 L25.5,239.9 L31.9,239.9 L38.3,239.9 L44.7,239.9 L51.0,239.9 L57.4,320.7 L63.8,320.7 L70.2,320.7 L76.6,320.7 L82.9,320.7 L89.3,320.7 L95.7,427.7 L102.1,427.7 L108.5,427.7 L114.8,427.7 L121.2,427.7 L127.6,427.7 L134.0,611.7 L140.4,611.7 L146.7,611.7 L153.1,611.7 L159.5,611.7 L165.9,611.7 L172.3,650.2 L178.6,650.2 L185.0,650.2 L191.4,650.2 L197.8,650.2 L204.2,650.2 L210.5,614.4 L216.9,614.4 L223.3,614.4 L229.7,614.4 L236.1,614.4 L242.4,614.4 L248.8,482.3 L255.2,482.3 L261.6,482.3 L268.0,482.3 L274.4,482.3 L280.7,482.3 L287.1,481.9 L293.5,481.9 L299.9,481.9 L306.3,481.9 L312.6,481.9 L319.0,481.9 L325.4,639.7 L331.8,639.7 L338.2,639.7 L344.5,639.7 L350.9,639.7 L357.3,639.7 L363.7,734.2 L370.1,734.2 L376.4,734.2 L382.8,734.2 L389.2,734.2 L395.6,734.2 L402.0,619.0 L408.3,619.0 L414.7,619.0 L421.1,619.0 L427.5,619.0 L433.9,619.0 L440.2,587.8 L446.6,587.8 L453.0,587.8 L459.4,587.8 L465.8,587.8 L472.1,587.8 L478.5,742.0 L484.9,742.0 L491.3,742.0 L497.7,742.0 L504.0,742.0 L510.4,742.0 L516.8,717.2 L523.2,717.2 L529.6,717.2 L535.9,717.2 L542.3,717.2 L548.7,717.2 L555.1,622.7 L561.5,622.7 L567.8,622.7 L574.2,622.7 L580.6,622.7 L587.0,622.7 L593.4,597.3 L599.7,597.3 L606.1,597.3 L612.5,597.3 L618.9,597.3 L625.3,597.3 L631.6,469.3 L638.0,469.3 L644.4,469.3 L650.8,469.3 L657.2,469.3 L663.5,469.3 L669.9,412.9 L676.3,412.9 L682.7,412.9 L689.1,412.9 L695.4,412.9 L701.8,412.9 L708.2,528.0 L714.6,528.0 L721.0,528.0 L727.3,528.0 L733.7,528.0 L740.1,528.0 L746.5,537.7 L752.9,537.7 L759.3,537.7 L765.6,537.7 L772.0,537.7 L778.4,537.7 L784.8,389.9 L791.2,389.9 L797.5,389.9 L803.9,389.9 L810.3,389.9 L816.7,389.9 L823.1,276.2 L829.4,276.2 L835.8,276.2 L842.2,276.2 L848.6,276.2 L855.0,276.2 L861.3,245.5 L867.7,245.5 L874.1,245.5 L880.5,245.5 L886.9,245.5 L893.2,245.5 L899.6,255.1 L906.0,255.1 L912.4,255.1 L918.8,255.1 L925.1,255.1 L931.5,255.1 L937.9,73.4 L944.3,73.4 L950.7,73.4 L957.0,73.4 L963.4,73.4 L969.8,73.4 L976.2,115.6 L982.6,115.6 L988.9,115.6 L995.3,115.6 L1001.7,115.6 L1008.1,115.6 L1014.5,252.8 L1020.8,252.8 L1027.2,252.8 L1033.6,252.8 L1040.0,252.8 L1046.4,252.8 L1052.7,407.8 L1059.1,407.8 L1065.5,407.8 L1071.9,407.8 L1078.3,407.8 L1084.6,407.8 L1091.0,385.8 L1097.4,385.8 L1103.8,385.8 L1110.2,385.8 L1116.5,385.8 L1122.9,385.8 L1129.3,307.8 L1135.7,307.8 L1142.1,307.8 L1148.4,307.8 L1154.8,307.8 L1161.2,307.8 L1167.6,253.7 L1174.0,253.7 L1180.3,253.7 L1186.7,253.7 L1193.1,253.7 L1199.5,253.7 L1205.9,27.5 L1212.2,27.5 L1218.6,27.5 L1225.0,27.5 L1231.4,27.5 L1237.8,27.5 L1244.1,91.3 L1250.5,91.3 L1256.9,91.3 L1263.3,91.3 L1269.7,91.3 L1276.1,91.3 L1282.4,23.4 L1288.8,23.4 L1295.2,23.4 L1301.6,23.4 L1308.0,23.4 L1314.3,23.4 L1320.7,152.8 L1327.1,152.8 L1333.5,152.8 L1339.9,152.8 L1346.2,152.8 L1352.6,152.8 L1359.0,331.9 L1365.4,331.9 L1371.8,331.9 L1378.1,331.9 L1384.5,331.9 L1390.9,331.9 L1397.3,336.6 L1403.7,336.6 L1410.0,336.6 L1416.4,336.6 L1422.8,336.6 L1429.2,336.6 L1435.6,444.8 L1441.9,444.8 L1448.3,444.8 L1454.7,444.8 L1461.1,444.8 L1467.5,444.8 L1473.8,545.7 L1480.2,545.7 L1486.6,545.7 L1493.0,545.7 L1499.4,545.7 L1505.7,545.7 L1512.1,567.3 L1518.5,567.3 L1524.9,567.3 L1531.3,567.3 L1537.6,567.3 L1544.0,567.3 L1550.4,624.9 L1556.8,624.9 L1563.2,624.9 L1569.5,624.9 L1575.9,624.9 L1582.3,624.9 L1588.7,544.8 L1595.1,544.8 L1601.4,544.8 L1607.8,544.8 L1614.2,544.8 L1620.6,544.8 L1627.0,471.9 L1633.3,471.9 L1639.7,471.9 L1646.1,471.9 L1652.5,471.9 L1658.9,471.9 L1665.2,448.5 L1671.6,448.5 L1678.0,448.5 L1684.4,448.5 L1690.8,448.5 L1697.1,448.5 L1703.5,363.1 L1709.9,363.1 L1716.3,363.1 L1722.7,363.1 L1729.0,363.1 L1735.4,363.1 L1741.8,381.9 L1748.2,381.9 L1754.6,381.9 L1761.0,381.9 L1767.3,381.9 L1773.7,381.9 L1780.1,421.9 L1786.5,421.9 L1792.9,421.9 L1799.2,421.9 L1805.6,421.9 L1812.0,421.9 L1818.4,515.5 L1824.8,515.5 L1831.1,515.5 L1837.5,515.5 L1843.9,515.5 L1850.3,515.5 L1856.7,569.9 L1863.0,569.9 L1869.4,569.9 L1875.8,569.9 L1882.2,569.9 L1888.6,569.9 L1894.9,662.8 L1901.3,662.8 L1907.7,662.8 L1914.1,662.8 L1920.5,662.8 L1926.8,662.8 L1933.2,724.3 L1939.6,724.3 L1946.0,724.3 L1952.4,724.3 L1958.7,724.3 L1965.1,724.3 L1971.5,893.9 L1977.9,893.9 L1984.3,893.9 L1990.6,893.9 L1997.0,893.9 L2003.4,893.9 L2009.8,1001.1 L2016.2,1001.1 L2022.5,1001.1 L2028.9,1001.1 L2035.3,1001.1 L2041.7,1001.1 L2048.1,964.4 L2054.4,964.4 L2060.8,964.4 L2067.2,964.4 L2073.6,964.4 L2080.0,964.4 L2086.3,1012.2 L2092.7,1012.2 L2099.1,1012.2 L2105.5,1012.2 L2111.9,1012.2 L2118.2,1012.2 L2124.6,956.2 L2131.0,956.2 L2137.4,956.2 L2143.8,956.2 L2150.1,956.2 L2156.5,956.2 L2162.9,996.1 L2169.3,996.1 L2175.7,996.1 L2182.0,996.1 L2188.4,996.1 L2194.8,996.1 L2201.2,1014.9 L2207.6,1014.9 L2213.9,1014.9 L2220.3,1014.9 L2226.7,1014.9 L2233.1,1014.9 L2239.5,980.0 L2245.9,980.0 L2252.2,980.0 L2258.6,980.0 L2265.0,980.0 L2271.4,980.0 L2277.8,961.7 L2284.1,961.7 L2290.5,961.7 L2296.9,961.7 L2303.3,961.7 L2309.7,961.7 L2316.0,906.6 L2322.4,906.6 L2328.8,906.6 L2335.2,906.6 L2341.6,906.6 L2347.9,906.6 L2354.3,879.6 L2360.7,879.6 L2367.1,879.6 L2373.5,879.6 L2379.8,879.6 L2386.2,879.6 L2392.6,835.3 L2399.0,835.3 L2405.4,835.3 L2411.7,835.3 L2418.1,835.3 L2424.5,835.3 L2430.9,929.6 L2437.3,929.6 L2443.6,929.6 L2450.0,929.6 L2456.4,929.6 L2462.8,929.6 L2469.2,931.4 L2475.5,931.4 L2481.9,931.4 L2488.3,931.4 L2494.7,931.4 L2501.1,931.4 L2507.4,848.5 L2513.8,848.5 L2520.2,848.5 L2526.6,848.5 L2533.0,848.5 L2539.3,848.5 L2545.7,841.6 L2552.1,841.6 L2558.5,841.6 L2564.9,841.6 L2571.2,841.6 L2577.6,841.6 L2584.0,854.0 L2590.4,854.0 L2596.8,854.0 L2603.1,854.0 L2609.5,854.0 L2615.9,854.0 L2622.3,799.9 L2628.7,799.9 L2635.0,799.9 L2641.4,799.9 L2647.8,799.9 L2654.2,799.9 L2660.6,840.7 L2666.9,840.7 L2673.3,840.7 L2679.7,840.7 L2686.1,840.7 L2692.5,840.7 L2698.8,822.8 L2705.2,822.8 L2711.6,822.8 L2718.0,822.8 L2724.4,822.8 L2730.7,822.8 L2737.1,901.1 L2743.5,901.1 L2749.9,901.1 L2756.3,901.1 L2762.7,901.1 L2769.0,901.1 L2775.4,981.4 L2781.8,981.4 L2788.2,981.4 L2794.6,981.4 L2800.9,981.4 L2807.3,981.4 L2813.7,984.2 L2820.1,984.2 L2826.5,984.2 L2832.8,984.2 L2839.2,984.2 L2845.6,984.2 L2852.0,1013.1 L2858.4,1013.1 L2864.7,1013.1 L2871.1,1013.1 L2877.5,1013.1 L2883.9,1013.1 L2890.3,975.9 L2896.6,975.9 L2903.0,975.9 L2909.4,975.9 L2915.8,975.9 L2922.2,975.9 L2928.5,903.4 L2934.9,903.4 L2941.3,903.4 L2947.7,903.4 L2954.1,903.4 L2960.4,903.4 L2966.8,902.1 L2973.2,902.1 L2979.6,902.1 L2986.0,902.1 L2992.3,902.1 L2998.7,902.1 L3005.1,974.1 L3011.5,974.1 L3017.9,974.1 L3024.2,974.1 L3030.6,974.1 L3037.0,974.1 L3043.4,997.5 L3049.8,997.5 L3056.1,997.5 L3062.5,997.5 L3068.9,997.5 L3075.3,997.5 L3081.7,1000.2 L3088.0,1000.2 L3094.4,1000.2 L3100.8,1000.2 L3107.2,1000.2 L3113.6,1000.2 L3119.9,1064.4 L3126.3,1064.4 L3132.7,1064.4 L3139.1,1064.4 L3145.5,1064.4 L3151.8,1064.4 L3158.2,1120.9 L3164.6,1120.9 L3171.0,1120.9 L3177.4,1120.9 L3183.7,1120.9 L3190.1,1120.9 L3196.5,1104.8 L3202.9,1104.8 L3209.3,1104.8 L3215.6,1104.8 L3222.0,1104.8 L3228.4,1104.8 L3234.8,1131.9 L3241.2,1131.9 L3247.6,1131.9 L3253.9,1131.9 L3260.3,1131.9 L3266.7,1131.9 L3273.1,1145.2 L3279.5,1145.2 L3285.8,1145.2 L3292.2,1145.2 L3298.6,1145.2 L3305.0,1145.2 L3311.4,1115.4 L3317.7,1115.4 L3324.1,1115.4 L3330.5,1115.4 L3336.9,1115.4 L3343.3,1115.4 L3349.6,1106.6 L3356.0,1106.6 L3362.4,1106.6 L3368.8,1106.6 L3375.2,1106.6 L3381.5,1106.6 L3387.9,1158.5 L3394.3,1158.5 L3400.7,1158.5 L3407.1,1158.5 L3413.4,1158.5 L3419.8,1158.5 L3426.2,1091.1 L3432.6,1091.1 L3439.0,1091.1 L3445.3,1091.1 L3451.7,1091.1 L3458.1,1091.1 L3464.5,1063.3 L3470.9,1063.3 L3477.2,1063.3 L3483.6,1063.3 L3490.0,1063.3" fill="none" stroke="#FF5B5B" stroke-width="1.5" stroke-linejoin="miter" stroke-miterlimit="10"/>
<line x1="0" y1="1160" x2="3540" y2="1160" stroke="#E7EAF3" stroke-width="2"/>
<line x1="3540" y1="14" x2="3540" y2="1160" stroke="#F47BF7" stroke-width="2"/>
<line x1="3640" y1="14" x2="3640" y2="1160" stroke="#26C953" stroke-width="2"/>
<line x1="3740" y1="14" x2="3740" y2="1160" stroke="#FF5B5B" stroke-width="2"/>
<g font-size="20" fill="#9FAAC4" stroke="#9FAAC4" stroke-width="0.15">
<text transform="translate(3551.9,19.6) scale(1,1.05)">31.41%</text>
<text transform="translate(3551.9,180.9) scale(1,1.05)">20.94%</text>
<text transform="translate(3551.9,342.2) scale(1,1.05)">10.47%</text>
<text transform="translate(3551.9,503.5) scale(1,1.05)">0%</text>
<text transform="translate(3551.9,669.0) scale(1,1.05)">-10.74%</text>
<text transform="translate(3551.9,834.5) scale(1,1.05)">-21.48%</text>
<text transform="translate(3551.9,1000.1) scale(1,1.05)">-32.23%</text>
<text transform="translate(3551.9,1165.6) scale(1,1.05)">-42.97%</text>
<text transform="translate(3651.9,19.6) scale(1,1.05)">6.623</text>
<text transform="translate(3651.9,162.8) scale(1,1.05)">6.039</text>
<text transform="translate(3651.9,306.1) scale(1,1.05)">5.455</text>
<text transform="translate(3651.9,449.4) scale(1,1.05)">4.871</text>
<text transform="translate(3651.9,592.6) scale(1,1.05)">4.287</text>
<text transform="translate(3651.9,735.9) scale(1,1.05)">3.703</text>
<text transform="translate(3651.9,879.1) scale(1,1.05)">3.119</text>
<text transform="translate(3651.9,1022.4) scale(1,1.05)">2.535</text>
<text transform="translate(3651.9,1165.6) scale(1,1.05)">1.952</text>
<text transform="translate(3751.9,19.6) scale(1,1.05)">119.61%</text>
<text transform="translate(3751.9,255.2) scale(1,1.05)">89.71%</text>
<text transform="translate(3751.9,490.8) scale(1,1.05)">59.80%</text>
<text transform="translate(3751.9,726.4) scale(1,1.05)">29.90%</text>
<text transform="translate(3751.9,961.9) scale(1,1.05)">0%</text>
<text transform="translate(3751.9,1029.8) scale(1,1.05)">-8.617%</text>
<text transform="translate(3751.9,1097.7) scale(1,1.05)">-17.23%</text>
<text transform="translate(3751.9,1165.6) scale(1,1.05)">-25.85%</text>
<text transform="translate(9.5,1186.2) scale(1,1.05)">30 Nov 21</text>
<text transform="translate(247.7,1186.2) scale(1,1.05)">08 Dec 21</text>
<text transform="translate(540.7,1186.2) scale(1,1.05)">16 Dec 21</text>
<text transform="translate(834.4,1186.2) scale(1,1.05)">23 Dec 21</text>
<text transform="translate(1127.9,1186.2) scale(1,1.05)">31 Dec 21</text>
<text transform="translate(1423.1,1186.2) scale(1,1.05)">08 Jan 22</text>
<text transform="translate(1716.5,1186.2) scale(1,1.05)">15 Jan 22</text>
<text transform="translate(2009.7,1186.2) scale(1,1.05)">23 Jan 22</text>
<text transform="translate(2303.7,1186.2) scale(1,1.05)">31 Jan 22</text>
<text transform="translate(2596.0,1186.2) scale(1,1.05)">07 Feb 22</text>
<text transform="translate(2889.2,1186.2) scale(1,1.05)">15 Feb 22</text>
<text transform="translate(3182.9,1186.2) scale(1,1.05)">23 Feb 22</text>
<text transform="translate(3484.4,1186.2) scale(1,1.05)">01 Mar 22</text>
</g>
<g font-size="20.2" fill="#fff" stroke="#fff" stroke-width="0.15">
<rect x="3546" y="680" width="86.5" height="26" fill="#F47BF7"/><text transform="translate(3551.9,700.0) scale(1,1.05)">-12.72%</text>
<rect x="3646" y="1012" width="62" height="26" fill="#26C953"/><text transform="translate(3651.9,1031.0) scale(1,1.05)">2.499</text>
<rect x="3746" y="1049" width="86.5" height="26" fill="#FF5B5B"/><text transform="translate(3751.9,1068.3) scale(1,1.05)">-13.52%</text>
</g>
<g font-size="27.5" fill="#181B2B">
<rect x="1445" y="1242" width="18" height="18" fill="#F47BF7"/><text x="1472.9" y="1259.7" word-spacing="1.7">MVRV Ratio (30d) (CRV)</text>
<rect x="1824" y="1242" width="18" height="18" fill="#26C953"/><text x="1852.2" y="1259.7" word-spacing="0.8">Price (CRV)</text>
<rect x="2039" y="1242" width="18" height="18" fill="#FF5B5B"/><text x="2067.2" y="1259.7" word-spacing="2">MVRV Ratio (365d) (CRV)</text>
</g>
</svg>
</body></html>
